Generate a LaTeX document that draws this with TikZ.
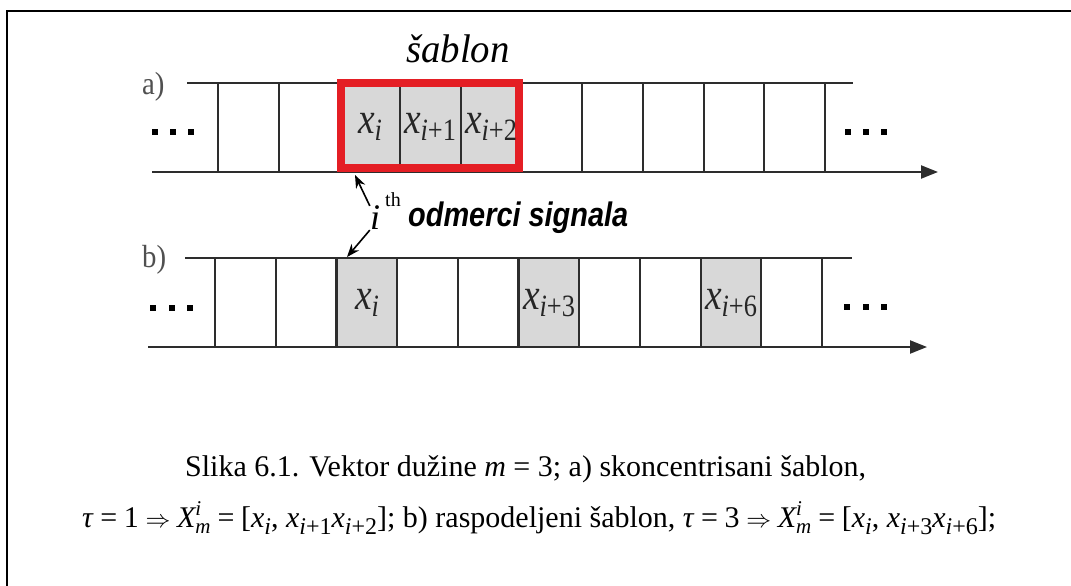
\documentclass[tikz,border=0pt]{standalone}
\usepackage{amsmath}
\usepackage{fontspec}
\usepackage{graphicx}
\setmainfont{Liberation Serif}
\newfontfamily\arialf{Liberation Sans}
\usetikzlibrary{arrows.meta}
\definecolor{gridc}{RGB}{45,45,45}
\definecolor{cellg}{RGB}{216,216,216}
\definecolor{redb}{RGB}{228,30,36}
\definecolor{lblc}{RGB}{80,80,80}
\newcommand{\fsz}[1]{\fontsize{#1}{#1}\selectfont}
\newcommand{\csub}[1]{\raisebox{-7pt}{\fsz{24}#1}}
\newcommand{\capX}{$\textit{X}^{\textit{i}}_{\textit{m}}$}
\newcommand{\cellx}[1]{\scalebox{0.85}[1]{\fsz{44}\textit{x}\raisebox{-7pt}{\fsz{31}#1}}}
\newcommand{\gapsp}{\hspace{0.22em}}
\tikzset{
  gridline/.style={draw=gridc, line width=2.2pt},
  axisline/.style={gridline, -{Triangle[length=17pt,width=13pt]}},
  cellfill/.style={fill=cellg},
  redbox/.style={draw=redb, line width=8pt},
  celllbl/.style={inner sep=0pt, text=black!85},
  rowlbl/.style={inner sep=0pt, anchor=base west, text=lblc, font=\fsz{32}},
  dotc/.style={fill=black, inner sep=0pt, minimum size=6pt, rectangle},
  ptr/.style={draw=black, line width=1.6pt, -{Stealth[length=13pt,width=10pt]}},
  caplbl/.style={inner sep=0pt, anchor=base west, font=\fsz{30}}
}
\begin{document}
\begin{tikzpicture}[x=1pt,y=-1pt]
\useasboundingbox (0,0) rectangle (1071,586);
% frame
\draw[line width=2pt] (1071,11) -- (7,11) -- (7,586);

% ---- row a ----
\fill[cellfill] (339.4,83) rectangle (521.5,172);
\foreach \k in {0,...,10} {
  \draw[gridline] ({218+60.7*\k},83) -- ({218+60.7*\k},172);
}
\draw[gridline] (187,83) -- (853,83);
\draw[axisline] (152,172) -- (938,172);
\draw[redbox] (341,83) rectangle (519,168);
\node[celllbl] (ax1) at (370,127) {\cellx{\textit{i}}};
\node[celllbl] (ax2) at (430,127) {\cellx{\textit{i}+1}};
\node[celllbl] (ax3) at (491,127) {\cellx{\textit{i}+2}};
\node[rowlbl] (alab) at (142,95) {\scalebox{0.9}[1]{a)}};
\node[dotc] (ad1) at (155,132) {};
\node[dotc] (ad2) at (173,132) {};
\node[dotc] (ad3) at (191,132) {};
\node[dotc] (ad4) at (848,132) {};
\node[dotc] (ad5) at (866,132) {};
\node[dotc] (ad6) at (884,132) {};
\node[inner sep=0pt, anchor=base west, font=\fsz{40}] (sab) at (406,63) {\scalebox{0.97}[1]{\textit{šablon}}};

% ---- row b ----
\foreach \k in {2,5,8} {
  \fill[cellfill] ({215+60.7*\k},258) rectangle ({215+60.7*(\k+1)},347);
}
\foreach \k in {0,...,10} {
  \draw[gridline] ({215+60.7*\k},258) -- ({215+60.7*\k},347);
}
\draw[gridline] (185,258) -- (852,258);
\draw[axisline] (148,347) -- (927,347);
\node[celllbl] (bx1) at (367,303) {\cellx{\textit{i}}};
\node[celllbl] (bx2) at (549,303) {\cellx{\textit{i}+3}};
\node[celllbl] (bx3) at (731,303) {\cellx{\textit{i}+6}};
\node[rowlbl] (blab) at (142,267) {\scalebox{0.9}[1]{b)}};
\node[dotc] (bd1) at (153,308) {};
\node[dotc] (bd2) at (172,308) {};
\node[dotc] (bd3) at (190,308) {};
\node[dotc] (bd4) at (847,307) {};
\node[dotc] (bd5) at (866,307) {};
\node[dotc] (bd6) at (884,307) {};

% ---- i-th pointer ----
\node[inner sep=0pt, font=\fsz{36}] (ith) at (375,218) {\textit{i}};
\node[inner sep=0pt, font=\fsz{20}] (ithsup) at (393,200) {th};
\coordinate (redcorner) at (355,175);
\coordinate (bcell) at (347,257);
\draw[ptr] (ith.north west) -- (redcorner);
\draw[ptr] (ith.south west) -- (bcell);
\node[inner sep=0pt, anchor=base west, font=\arialf\bfseries\itshape\fsz{34}] (odm) at (408,226) {\scalebox{0.85}[1]{odmerci signala}};

% ---- caption ----
\node[caplbl] (cap1) at (185,476) {Slika 6.1. Vektor dužine \textit{m} = 3; a) skoncentrisani šablon,};
\node[caplbl] (cap2) at (82,527) {\textit{τ}\gapsp=\gapsp1\gapsp$\Rightarrow$\gapsp\capX\gapsp=\gapsp[\textit{x}\csub{\textit{i}}, \textit{x}\csub{\textit{i}+1}\textit{x}\csub{\textit{i}+2}]; b) raspodeljeni šablon, \textit{τ}\gapsp=\gapsp3\gapsp$\Rightarrow$\gapsp\capX\gapsp=\gapsp[\textit{x}\csub{\textit{i}}, \textit{x}\csub{\textit{i}+3}\textit{x}\csub{\textit{i}+6}];};
\end{tikzpicture}
\end{document}
